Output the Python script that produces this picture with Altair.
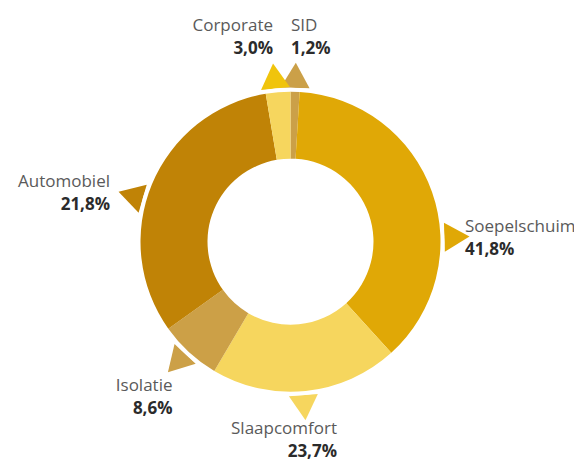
import altair as alt
import pandas as pd

# ---- data (clockwise from 12 o'clock) ----
categories = ["SID", "Soepelschuim", "Slaapcomfort", "Isolatie", "Automobiel", "Corporate"]
arc_share = [0.97, 37.3, 20.2, 6.67, 32.2, 2.64]          # ring share as drawn
value_labels = ["1,2%", "41,8%", "23,7%", "8,6%", "21,8%", "3,0%"]
arc_colors = ["#CBA048", "#E0A806", "#F6D65E", "#CCA047", "#C08306", "#F6D65E"]
pointer_colors = ["#CBA048", "#E0A806", "#F6D65E", "#CCA047", "#C08306", "#F0C40C"]
pointer_angle = [1.7, 88.3, 175.2, 223.2, 286.2, 354.4]

# ---- layout ----
label_dx = [0.5, 174.5, 46.5, -118, -180.5, -17.5]
label_dy = [-210.7, -9.7, 192.3, 149.3, -54.7, -210.7]
label_align = ["left", "left", "right", "right", "right", "right"]

CX, CY = 282.5, 233.7
R_OUT, R_IN, R_GAP, R_PTR = 150, 83, 154, 166.5
LINE = 23
FONT = "Open Sans"

df = pd.DataFrame({
    "idx": list(range(len(categories))),
    "category": categories,
    "share": arc_share,
    "value": value_labels,
    "arc_color": arc_colors,
    "ptr_color": pointer_colors,
    "pangle": pointer_angle,
    "ldx": label_dx,
    "ldy": label_dy,
    "align": label_align,
})

base = alt.Chart(df)

pointers = base.transform_calculate(
    px=f"{CX} + {R_PTR}*sin(datum.pangle*PI/180)",
    py=f"{CY} - {R_PTR}*cos(datum.pangle*PI/180)",
).mark_point(shape="triangle-up", filled=True, size=841, opacity=1, strokeWidth=0).encode(
    x=alt.X("px:Q", scale=None, axis=None),
    y=alt.Y("py:Q", scale=None, axis=None),
    angle=alt.Angle("pangle:Q", scale=None),
    color=alt.Color("ptr_color:N", scale=None),
)

gap = alt.Chart(pd.DataFrame({"k": [0]})).mark_arc(
    radius=R_GAP, innerRadius=0, theta=0, theta2=6.2832, color="white"
).encode(x=alt.value(CX), y=alt.value(CY))

ring = base.mark_arc(radius=R_OUT, innerRadius=R_IN).encode(
    theta=alt.Theta("share:Q", stack=True),
    order=alt.Order("idx:Q"),
    color=alt.Color("arc_color:N", scale=None),
    x=alt.value(CX),
    y=alt.value(CY),
)

def labels(al):
    sub = base.transform_filter(f"datum.align == '{al}'").transform_calculate(
        lx=f"{CX} + datum.ldx",
        ly=f"{CY} + datum.ldy",
        ly2=f"{CY} + datum.ldy + {LINE}",
    )
    name = sub.mark_text(align=al, baseline="alphabetic", font=FONT, fontSize=17,
                         fontWeight="normal", color="#5a5a5a").encode(
        x=alt.X("lx:Q", scale=None, axis=None),
        y=alt.Y("ly:Q", scale=None, axis=None),
        text="category:N",
    )
    val = sub.mark_text(align=al, baseline="alphabetic", font=FONT, fontSize=17,
                        fontWeight="bold", color="#2b2b2b").encode(
        x=alt.X("lx:Q", scale=None, axis=None),
        y=alt.Y("ly2:Q", scale=None, axis=None),
        text="value:N",
    )
    return name + val

chart = alt.layer(pointers, gap, ring, labels("left"), labels("right")).properties(
    width=566, height=453, padding=0, autosize=alt.AutoSizeParams(type="none")
).configure_view(stroke=None)

chart.save("out.html", embed_options={"renderer": "svg", "actions": False})
